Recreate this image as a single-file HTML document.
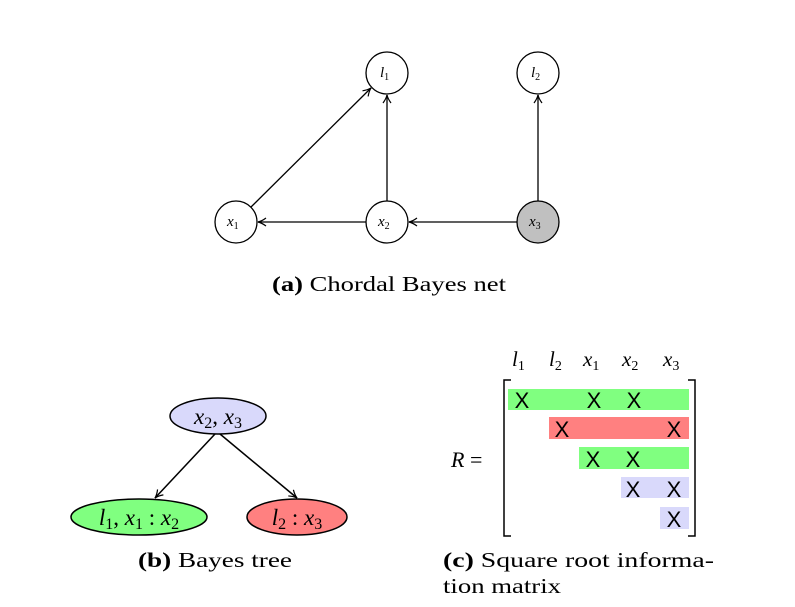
<!DOCTYPE html>
<html><head><style>
body{margin:0;background:#fff}
svg{display:block}
text{font-family:"Liberation Serif",serif;fill:#000}
.it{font-style:italic}
text.x{font-family:"Liberation Sans",sans-serif;font-size:22px}
</style></head><body>
<svg width="795" height="607" viewBox="0 0 795 607">
<defs><marker id="a" markerWidth="10" markerHeight="10" refX="9" refY="5" orient="auto" markerUnits="userSpaceOnUse"><path d="M1,1 Q5,4 9,5 Q5,6 1,9" fill="none" stroke="#000" stroke-width="1.2"/></marker></defs>
<g stroke="#000" stroke-width="1.3" fill="none">
<line x1="251" y1="207" x2="371" y2="88" marker-end="url(#a)"/>
<line x1="387" y1="201" x2="387" y2="95" marker-end="url(#a)"/>
<line x1="538" y1="201" x2="538" y2="95" marker-end="url(#a)"/>
<line x1="366" y1="222" x2="258" y2="222" marker-end="url(#a)"/>
<line x1="517" y1="222" x2="409" y2="222" marker-end="url(#a)"/>
<circle cx="387" cy="73" r="21" fill="#fff"/>
<circle cx="538" cy="73" r="21" fill="#fff"/>
<circle cx="236" cy="222" r="21" fill="#fff"/>
<circle cx="387" cy="222" r="21" fill="#fff"/>
<circle cx="538" cy="222" r="21" fill="#c0c0c0"/>
</g>
<g font-size="15">
<text x="380" y="77" class="it">l<tspan font-size="10" dy="3" font-style="normal">1</tspan></text>
<text x="531" y="77" class="it">l<tspan font-size="10" dy="3" font-style="normal">2</tspan></text>
<text x="227" y="226" class="it">x<tspan font-size="10" dy="3" font-style="normal">1</tspan></text>
<text x="378" y="226" class="it">x<tspan font-size="10" dy="3" font-style="normal">2</tspan></text>
<text x="529" y="226" class="it">x<tspan font-size="10" dy="3" font-style="normal">3</tspan></text>
</g>
<text x="272" y="291" font-size="21" textLength="234" lengthAdjust="spacingAndGlyphs"><tspan font-weight="bold">(a)</tspan> Chordal Bayes net</text>

<g stroke="#000" stroke-width="1.5">
<line x1="215" y1="434" x2="155" y2="498" marker-end="url(#a)"/>
<line x1="220" y1="434" x2="297" y2="498" marker-end="url(#a)"/>
<ellipse cx="218" cy="416" rx="48" ry="18" fill="#d9d9fb"/>
<ellipse cx="139" cy="517" rx="68" ry="18" fill="#80ff80"/>
<ellipse cx="297" cy="517" rx="50" ry="18" fill="#ff8080"/>
</g>
<text x="218" y="424" font-size="23" text-anchor="middle" class="it">x<tspan font-size="16" dy="4" font-style="normal">2</tspan><tspan dy="-4" font-style="normal">, </tspan>x<tspan font-size="16" dy="4" font-style="normal">3</tspan></text>
<text x="139" y="525" font-size="23" text-anchor="middle" class="it">l<tspan font-size="16" dy="4" font-style="normal">1</tspan><tspan dy="-4" font-style="normal">, </tspan>x<tspan font-size="16" dy="4" font-style="normal">1</tspan><tspan dy="-4" font-style="normal"> : </tspan>x<tspan font-size="16" dy="4" font-style="normal">2</tspan></text>
<text x="297" y="525" font-size="23" text-anchor="middle" class="it">l<tspan font-size="16" dy="4" font-style="normal">2</tspan><tspan dy="-4" font-style="normal"> : </tspan>x<tspan font-size="16" dy="4" font-style="normal">3</tspan></text>
<text x="138" y="567" font-size="21" textLength="154" lengthAdjust="spacingAndGlyphs"><tspan font-weight="bold">(b)</tspan> Bayes tree</text>

<g font-size="21">
<text x="512" y="366" class="it">l<tspan font-size="14" dy="4" font-style="normal">1</tspan></text>
<text x="549" y="366" class="it">l<tspan font-size="14" dy="4" font-style="normal">2</tspan></text>
<text x="583" y="366" class="it">x<tspan font-size="14" dy="4" font-style="normal">1</tspan></text>
<text x="622" y="366" class="it">x<tspan font-size="14" dy="4" font-style="normal">2</tspan></text>
<text x="663" y="366" class="it">x<tspan font-size="14" dy="4" font-style="normal">3</tspan></text>
</g>
<text x="451" y="467" font-size="22"><tspan class="it">R</tspan> =</text>
<path d="M511,380 H504 V536 H511 M688,380 H695 V536 H688" fill="none" stroke="#000" stroke-width="1.5"/>
<rect x="508" y="389" width="181" height="21" fill="#80ff80"/>
<rect x="549" y="417" width="140" height="22" fill="#ff8080"/>
<rect x="579" y="447" width="110" height="22" fill="#80ff80"/>
<rect x="621" y="477" width="68" height="21" fill="#d9d9fb"/>
<rect x="660" y="507" width="29" height="22" fill="#d9d9fb"/>
<g text-anchor="middle">
<text class="x" x="522" y="408">X</text><text class="x" x="594" y="408">X</text><text class="x" x="634" y="408">X</text>
<text class="x" x="562" y="437">X</text><text class="x" x="674" y="437">X</text>
<text class="x" x="593" y="467">X</text><text class="x" x="633" y="467">X</text>
<text class="x" x="633" y="497">X</text><text class="x" x="674" y="497">X</text>
<text class="x" x="674" y="527">X</text>
</g>
<text x="443" y="567" font-size="21" textLength="271" lengthAdjust="spacingAndGlyphs"><tspan font-weight="bold">(c)</tspan>  Square  root  informa-</text>
<text x="443" y="593" font-size="21" textLength="118" lengthAdjust="spacingAndGlyphs">tion matrix</text>
</svg>
</body></html>
